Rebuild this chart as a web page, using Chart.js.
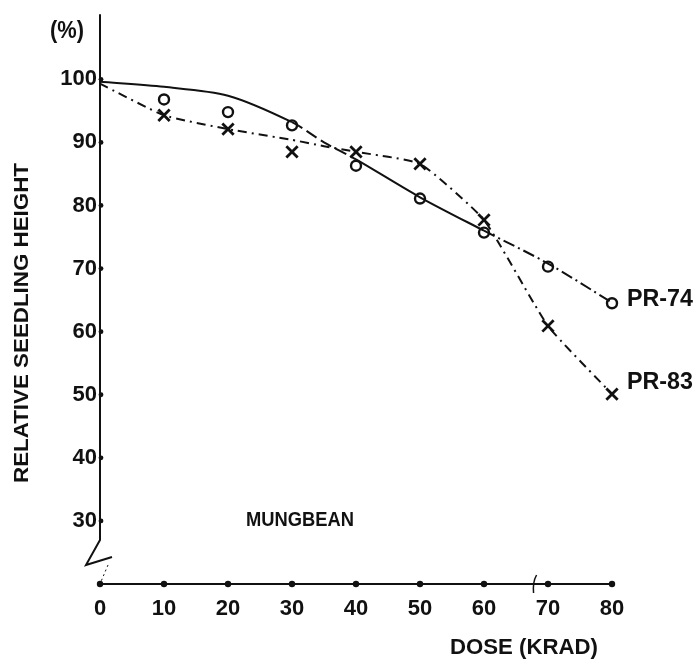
<!DOCTYPE html>
<html>
<head>
<meta charset="utf-8">
<script src="https://cdn.jsdelivr.net/npm/chart.js@4.4.1/dist/chart.umd.min.js"></script>
<style>
    body { margin: 0; background: #fff; }
    #wrap { width: 700px; height: 669px; position: relative; }
</style>
</head>
<body>
<div id="wrap"><canvas id="myChart"></canvas></div>
<script>
// measured points (dose in krad, relative height in %)
const doseMarks = [10, 20, 30, 40, 50, 60, 70, 80];
const pr74Marks = [96.8, 94.8, 92.7, 86.3, 81.1, 75.7, 70.3, 64.5];
const pr83Marks = [94.3, 92.1, 88.5, 88.5, 86.6, 77.7, 60.9, 50.1];

// hand drawn curves through the points
const doseCurve = [0, 10, 20, 30, 35, 40, 50, 60, 70, 80];
const pr74Curve = [99.6, 98.8, 97.4, 93.2, 90.0, 87.3, 81.3, 76.0, 70.8, 64.6];
const pr83Curve = [99.3, 94.3, 92.1, 90.4, 89.4, 88.5, 86.6, 77.7, 60.9, 50.1];

const doseTicks = [0, 10, 20, 30, 40, 50, 60, 70, 80];
const heightTicks = [30, 40, 50, 60, 70, 80, 90, 100];

const FAMILY = "'Liberation Sans', Arial, sans-serif";

function pairs(xs, ys) {
    return xs.map((x, i) => ({ x: x, y: ys[i] }));
}

function fitText(ctx, text, cx, cy, w, size, rot) {
    ctx.save();
    ctx.font = 'bold ' + size + 'px ' + FAMILY;
    const m = ctx.measureText(text).width;
    ctx.translate(cx, cy);
    if (rot) ctx.rotate(rot);
    ctx.scale(w / m, 1);
    ctx.textAlign = 'center';
    ctx.textBaseline = 'middle';
    ctx.fillStyle = '#111';
    ctx.fillText(text, 0, 0);
    ctx.restore();
}

const paperAxes = {
    id: 'paperAxes',
    beforeDatasetsDraw(chart) {
        const ctx = chart.ctx;
        const xs = chart.scales.x, ys = chart.scales.y;
        const x0 = xs.getPixelForValue(0);
        const yb = ys.getPixelForValue(20);
        ctx.save();
        ctx.strokeStyle = '#111';
        ctx.fillStyle = '#111';
        ctx.lineWidth = 2;
        // y axis with the break at the bottom
        ctx.beginPath();
        ctx.moveTo(x0, chart.chartArea.top - 2);
        ctx.lineTo(x0, yb - 44);
        ctx.lineTo(x0 - 14, yb - 19);
        ctx.lineTo(x0 + 12, yb - 27);
        ctx.stroke();
        ctx.lineWidth = 1;
        ctx.setLineDash([2, 3]);
        ctx.beginPath();
        ctx.moveTo(x0 + 8, yb - 19);
        ctx.lineTo(x0, yb);
        ctx.stroke();
        ctx.setLineDash([]);
        // x axis
        ctx.lineWidth = 2;
        ctx.beginPath();
        ctx.moveTo(x0, yb);
        ctx.lineTo(xs.getPixelForValue(80), yb);
        ctx.stroke();
        doseTicks.forEach(d => {
            ctx.beginPath();
            ctx.arc(xs.getPixelForValue(d), yb, 3.2, 0, Math.PI * 2);
            ctx.fill();
        });
        heightTicks.forEach(h => {
            ctx.beginPath();
            ctx.arc(x0 + 1, ys.getPixelForValue(h), 2.4, 0, Math.PI * 2);
            ctx.fill();
        });
        // small slash on the dose axis
        const xb = xs.getPixelForValue(67.9);
        ctx.lineWidth = 1.5;
        ctx.beginPath();
        ctx.moveTo(xb - 1, yb + 9);
        ctx.quadraticCurveTo(xb - 2, yb - 2, xb + 2, yb - 9);
        ctx.stroke();
        ctx.restore();
    },
    afterDraw(chart) {
        const ctx = chart.ctx;
        fitText(ctx, '(%)', 67, 32, 34, 23);
        fitText(ctx, 'RELATIVE SEEDLING HEIGHT', 22, 323, 320, 21, -Math.PI / 2);
        fitText(ctx, 'MUNGBEAN', 300, 520, 108, 21);
        fitText(ctx, 'PR-74', 660, 300, 66, 23);
        fitText(ctx, 'PR-83', 660, 383, 66, 23);
        fitText(ctx, 'DOSE (KRAD)', 524, 648, 148, 22);
    }
};

const ctx = document.getElementById('myChart').getContext('2d');
const myChart = new Chart(ctx, {
    type: 'line',
    data: {
        datasets: [{
            label: 'PR-74 curve',
            data: pairs(doseCurve, pr74Curve),
            borderColor: '#111',
            borderWidth: 2,
            pointRadius: 0,
            tension: 0.3,
            segment: {
                borderDash: c => {
                    const d = doseCurve[c.p0DataIndex];
                    if (d >= 60) return [12, 4, 2, 4];
                    if (d >= 30 && d < 40) return [12, 5];
                    return undefined;
                }
            }
        }, {
            label: 'PR-83 curve',
            data: pairs(doseCurve, pr83Curve),
            borderColor: '#111',
            borderWidth: 2,
            borderDash: [9, 5, 2, 5],
            pointRadius: 0,
            tension: 0.15
        }, {
            label: 'PR-74',
            data: pairs(doseMarks, pr74Marks),
            showLine: false,
            clip: false,
            pointStyle: 'circle',
            pointRadius: 5,
            pointBorderWidth: 2.4,
            pointBorderColor: '#111',
            pointBackgroundColor: '#fff'
        }, {
            label: 'PR-83',
            data: pairs(doseMarks, pr83Marks),
            showLine: false,
            clip: false,
            pointStyle: 'crossRot',
            pointRadius: 8,
            pointBorderWidth: 2.8,
            pointBorderColor: '#111'
        }]
    },
    options: {
        responsive: true,
        maintainAspectRatio: false,
        animation: false,
        layout: { padding: { top: 10, right: 88, left: 0, bottom: 0 } },
        plugins: {
            legend: { display: false },
            tooltip: { enabled: false }
        },
        scales: {
            x: {
                type: 'linear',
                min: 0,
                max: 80,
                grid: { display: false, drawTicks: false },
                border: { display: false },
                afterFit: s => { s.height = 85; },
                ticks: {
                    stepSize: 10,
                    padding: 12,
                    color: '#111',
                    font: { family: FAMILY, size: 22, weight: 'bold' }
                }
            },
            y: {
                min: 20,
                max: 110,
                grid: { display: false, drawTicks: false },
                border: { display: false },
                afterFit: s => { s.width = 100; },
                ticks: {
                    stepSize: 10,
                    padding: 3,
                    color: '#111',
                    autoSkip: false,
                    font: { family: FAMILY, size: 22, weight: 'bold' },
                    callback: v => heightTicks.includes(v) ? v : ''
                }
            }
        }
    },
    plugins: [paperAxes]
});
</script>
</body>
</html>
